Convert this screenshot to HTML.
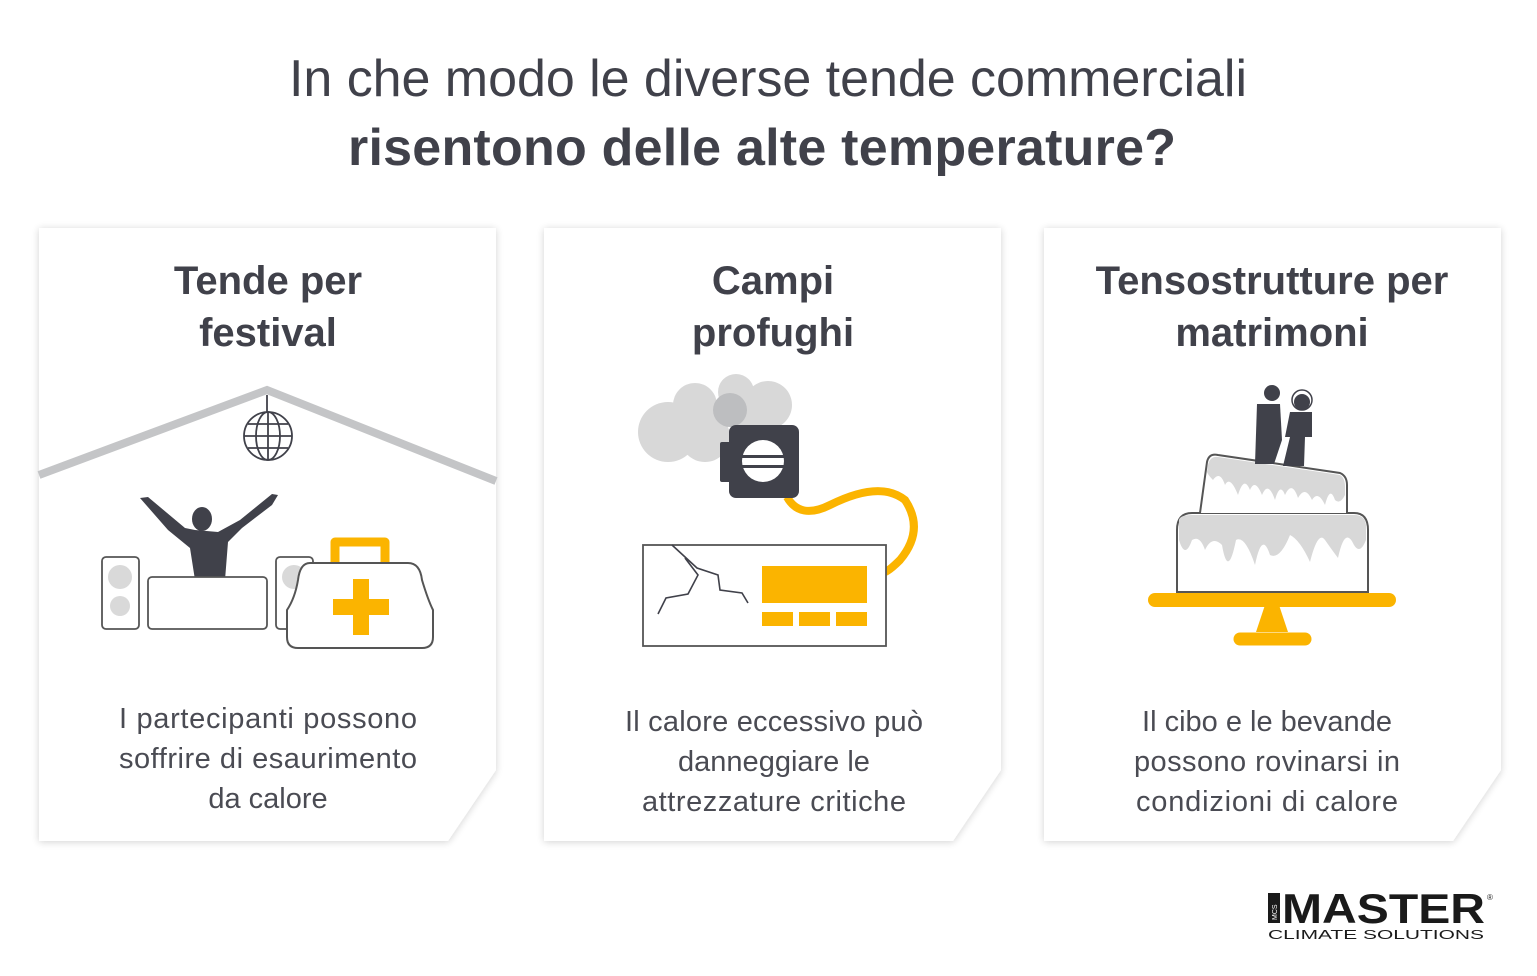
<!DOCTYPE html>
<html><head><meta charset="utf-8"><style>
body{margin:0;background:#fff;width:1537px;height:971px;overflow:hidden;font-family:"Liberation Sans",sans-serif}
</style></head><body>
<svg width="1537" height="971" viewBox="0 0 1537 971" xmlns="http://www.w3.org/2000/svg" font-family="Liberation Sans, sans-serif">
<defs><filter id="sh" x="-10%" y="-10%" width="120%" height="120%"><feGaussianBlur in="SourceAlpha" stdDeviation="4"/><feOffset dx="0" dy="1"/><feComponentTransfer><feFuncA type="linear" slope="0.18"/></feComponentTransfer><feMerge><feMergeNode/><feMergeNode in="SourceGraphic"/></feMerge></filter></defs>
<text x="768" y="96" text-anchor="middle" font-size="52" fill="#40414a" font-weight="300" textLength="958">In che modo le diverse tende commerciali</text>
<text x="762" y="165" text-anchor="middle" font-size="52" fill="#40414a" font-weight="bold" textLength="828">risentono delle alte temperature?</text>
<g filter="url(#sh)" fill="#fff">
<path d="M39 228H496V770L448 841H39Z"/>
<path d="M544 228H1001V770L953 841H544Z"/>
<path d="M1044 228H1501V770L1453 841H1044Z"/>
</g>
<g font-size="40" font-weight="bold" fill="#40414a" text-anchor="middle">
<text x="268" y="294">Tende per</text><text x="268" y="346">festival</text>
<text x="773" y="294">Campi</text><text x="773" y="346">profughi</text>
<text x="1272" y="294">Tensostrutture per</text><text x="1272" y="346">matrimoni</text>
</g>
<g font-size="29" fill="#4a4b53" text-anchor="middle" font-weight="300">
<text x="268" y="728" textLength="298">I partecipanti possono</text><text x="268" y="768" textLength="298">soffrire di esaurimento</text><text x="268" y="808">da calore</text>
<text x="774" y="731" textLength="298">Il calore eccessivo può</text><text x="774" y="771">danneggiare le</text><text x="774" y="811" textLength="264">attrezzature critiche</text>
<text x="1267" y="731">Il cibo e le bevande</text><text x="1267" y="771" textLength="266">possono rovinarsi in</text><text x="1267" y="811" textLength="262">condizioni di calore</text>
</g>
<!-- festival -->
<polyline points="39,475 267,390 496,481" fill="none" stroke="#c4c5c7" stroke-width="8"/>
<g stroke="#40414a" stroke-width="1.8" fill="none">
<line x1="267" y1="395" x2="267" y2="460"/>
<circle cx="268" cy="436" r="24" fill="#fff"/>
<ellipse cx="268" cy="436" rx="12" ry="24"/>
<line x1="244" y1="436" x2="292" y2="436"/><line x1="268" y1="412" x2="268" y2="460"/>
<line x1="248" y1="424" x2="288" y2="424"/><line x1="248" y1="448" x2="288" y2="448"/>
</g>
<path d="M140 498L148 497L185 528L195 530L218 532L240 520L272 494L278 495L272 505L242 528L228 542L225 580H195L190 548L168 530Z" fill="#40414a"/>
<ellipse cx="202" cy="519" rx="10" ry="12" fill="#40414a"/>
<g stroke="#555" stroke-width="1.8" fill="#fff">
<rect x="102" y="557" width="37" height="72" rx="4"/>
<rect x="148" y="577" width="119" height="52" rx="4"/>
<rect x="276" y="557" width="37" height="72" rx="4"/>
</g>
<circle cx="120" cy="577" r="12" fill="#d9d9d9"/><circle cx="120" cy="606" r="10" fill="#d9d9d9"/>
<circle cx="294" cy="577" r="12" fill="#d9d9d9"/>
<path d="M335 563V542H385V563" fill="none" stroke="#fbb400" stroke-width="9" stroke-linejoin="round"/>
<path d="M310 563H408Q420 563 422 580Q428 600 433 610V637Q433 648 422 648H298Q287 648 287 637V610Q295 598 298 580Q300 563 310 563Z" fill="#fff" stroke="#555" stroke-width="2"/>
<path d="M353 579H369V599H389V615H369V635H353V615H333V599H353Z" fill="#fbb400"/>
<!-- refugee -->
<g fill="#d8d8d8">
<circle cx="668" cy="432" r="30"/><circle cx="695" cy="405" r="22"/><circle cx="705" cy="437" r="25"/><circle cx="740" cy="405" r="22"/><circle cx="736" cy="392" r="18"/><circle cx="768" cy="405" r="24"/><circle cx="760" cy="435" r="20"/>
</g>
<circle cx="730" cy="410" r="17" fill="#bdbec0"/>
<path d="M787 497Q800 520 830 505Q880 480 905 500Q925 530 900 560Q890 570 885 572" fill="none" stroke="#fbb400" stroke-width="8"/>
<rect x="729" y="425" width="70" height="73" rx="7" fill="#40414a"/>
<rect x="720" y="442" width="12" height="40" rx="2" fill="#40414a"/>
<circle cx="763" cy="461" r="21" fill="#fff"/>
<rect x="740" y="455" width="46" height="3" fill="#40414a"/><rect x="740" y="465" width="46" height="3" fill="#40414a"/>
<rect x="643" y="545" width="243" height="101" fill="#fff" stroke="#555" stroke-width="1.8"/>
<polyline points="672,545 697,568 718,575 720,590 742,593 748,603" fill="none" stroke="#40414a" stroke-width="1.6"/>
<polyline points="685,558 698,575 688,594 666,598 658,614" fill="none" stroke="#40414a" stroke-width="1.6"/>
<rect x="762" y="566" width="105" height="37" fill="#fbb400"/>
<rect x="762" y="612" width="31" height="14" fill="#fbb400"/><rect x="799" y="612" width="31" height="14" fill="#fbb400"/><rect x="836" y="612" width="31" height="14" fill="#fbb400"/>
<!-- cake -->
<path d="M1177 592V530Q1177 513 1192 513H1354Q1368 513 1368 530V592Z" fill="#fff" stroke="#555" stroke-width="2"/>
<path d="M1179 520Q1180 515 1192 515H1354Q1365 515 1366 525V540Q1360 555 1354 545Q1345 525 1338 558Q1332 550 1325 540Q1318 530 1310 562Q1300 540 1290 535Q1280 560 1270 555Q1262 530 1255 565Q1245 535 1236 540Q1228 580 1222 545Q1212 535 1205 550Q1200 535 1192 540Q1185 560 1179 540Z" fill="#d8d8d8"/>
<path d="M1200 513L1207 462Q1209 453 1218 455L1340 473Q1347 476 1347 485V513" fill="#fff" stroke="#555" stroke-width="2"/>
<path d="M1208 465Q1210 456 1218 457L1340 475Q1345 478 1345 487V495Q1340 505 1335 500Q1330 485 1325 505Q1318 490 1312 500Q1305 485 1298 498Q1292 480 1285 495Q1280 482 1275 500Q1268 480 1262 495Q1255 478 1250 490Q1244 475 1238 495Q1230 475 1225 485Q1220 470 1213 480Q1208 475 1207 472Z" fill="#d8d8d8"/>
<circle cx="1272" cy="393" r="8" fill="#40414a"/>
<path d="M1257 404H1280L1282 440L1274 464H1255Z" fill="#40414a"/>
<circle cx="1302" cy="400" r="10" fill="none" stroke="#40414a" stroke-width="1.5"/>
<circle cx="1302" cy="402" r="8" fill="#40414a"/>
<path d="M1290 412H1312V437H1305L1304 466H1283L1290 437H1285Z" fill="#40414a"/>
<line x1="1155" y1="600" x2="1389" y2="600" stroke="#fbb400" stroke-width="14" stroke-linecap="round"/>
<path d="M1265 605H1279L1288 632H1256Z" fill="#fbb400"/>
<line x1="1240" y1="639" x2="1305" y2="639" stroke="#fbb400" stroke-width="13" stroke-linecap="round"/>
<!-- logo -->
<text x="1282" y="923" font-size="42" font-weight="bold" fill="#1a1a1a" textLength="203" lengthAdjust="spacingAndGlyphs">MASTER</text>
<rect x="1268" y="893" width="12" height="30" fill="#1a1a1a"/>
<text x="1277" y="920" font-size="7" fill="#fff" transform="rotate(-90 1277 920)">MCS</text>
<text x="1487" y="900" font-size="8" fill="#1a1a1a">®</text>
<text x="1268" y="939" font-size="13" fill="#1a1a1a" textLength="216" lengthAdjust="spacingAndGlyphs">CLIMATE SOLUTIONS</text>
</svg>
</body></html>
